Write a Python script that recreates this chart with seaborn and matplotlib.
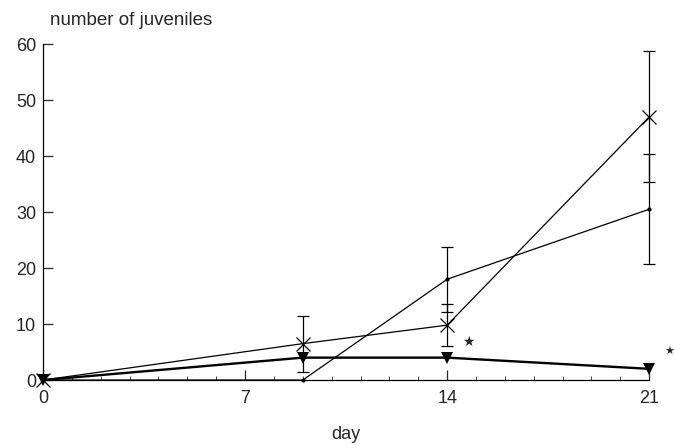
import matplotlib
matplotlib.use("Agg")
import matplotlib.pyplot as plt
import seaborn as sns
import pandas as pd
from matplotlib.ticker import MultipleLocator

# Datos
dias = [0, 9, 14, 21]
cruz = [0, 6.5, 9.8, 47]
cruz_err = [0, 5.0, 3.8, 11.7]
punto = [0, 0, 18, 30.5]
punto_err = [0, 0, 5.8, 9.8]
triangulo = [0, 4, 4, 2]
triangulo_err = [0, 0, 0, 0]

df = pd.DataFrame({
    'day': dias * 3,
    'n': cruz + punto + triangulo,
    'err': cruz_err + punto_err + triangulo_err,
    'grupo': ['cruz'] * 4 + ['punto'] * 4 + ['triangulo'] * 4,
})

sns.set_style('ticks')
plt.rcParams['font.family'] = ['Liberation Sans', 'DejaVu Sans']

fig = plt.figure(figsize=(6.74, 4.45), dpi=100)
ax = fig.add_axes([0.0638, 0.146, 0.8994, 0.755])

estilos = {
    'cruz': dict(marker='x', ms=10, mew=0.9, lw=0.9),
    'punto': dict(marker='o', ms=3, mew=0, lw=0.9),
    'triangulo': dict(marker='v', ms=9, mew=0, lw=1.7),
}
for g, sub in df.groupby('grupo'):
    sns.lineplot(data=sub, x='day', y='n', ax=ax, color='black',
                 markeredgecolor='black', clip_on=False, **estilos[g])
    m = sub['err'] > 0
    ax.errorbar(sub['day'][m], sub['n'][m], yerr=sub['err'][m], fmt='none',
                ecolor='black', elinewidth=0.9, capsize=4, capthick=0.9,
                clip_on=False)

# asteriscos de significancia
ax.text(14.75, 6.8, '★', fontsize=10, ha='center', va='center',
        family=['DejaVu Sans'], clip_on=False)
ax.text(21.68, 5.0, '★', fontsize=8, ha='center', va='center',
        family=['DejaVu Sans'], clip_on=False)

ax.set_xlim(0, 21)
ax.set_ylim(0, 60)
ax.set_xticks([0, 7, 14, 21])
ax.xaxis.set_minor_locator(MultipleLocator(1))
ax.set_yticks(range(0, 61, 10))
ax.tick_params(direction='in', length=7, width=0.9, labelsize=13, pad=7)
ax.tick_params(axis='y', pad=5)
ax.tick_params(which='minor', direction='in', length=3, width=0.6)
sns.despine(ax=ax)
for s in ['left', 'bottom']:
    ax.spines[s].set_linewidth(0.9)
    ax.spines[s].set_color('black')

ax.set_xlabel('day', fontsize=13, labelpad=14)
ax.set_ylabel('')
fig.text(0.074, 0.953, 'number of juveniles', fontsize=13.5, ha='left', va='center')
if ax.get_legend():
    ax.get_legend().remove()

fig.savefig('out.png', dpi=100)
